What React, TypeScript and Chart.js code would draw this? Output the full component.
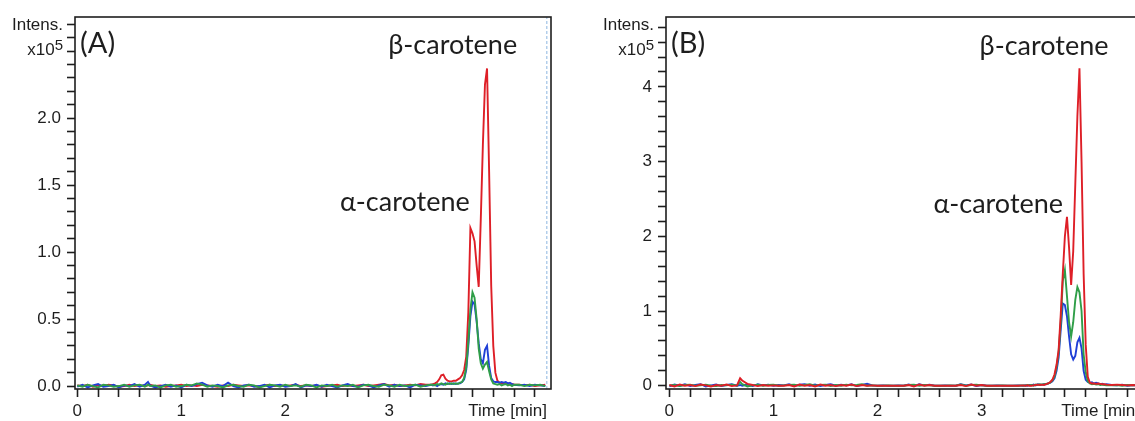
import React, { useEffect, useRef } from "react";
import { Chart, registerables } from "chart.js";

Chart.register(...registerables);

// Retention times (min), shared by both chromatograms
const times = [
  0.00, 0.05, 0.10, 0.15, 0.20, 0.25, 0.30, 0.35, 0.40, 0.45,
  0.50, 0.55, 0.60, 0.65, 0.68, 0.70, 0.75, 0.80, 0.85, 0.90,
  0.95, 1.00, 1.05, 1.10, 1.15, 1.20, 1.25, 1.30, 1.35, 1.40,
  1.45, 1.50, 1.55, 1.60, 1.65, 1.70, 1.75, 1.80, 1.85, 1.90,
  1.95, 2.00, 2.05, 2.10, 2.15, 2.20, 2.25, 2.30, 2.35, 2.40,
  2.45, 2.50, 2.55, 2.60, 2.65, 2.70, 2.75, 2.80, 2.85, 2.90,
  2.95, 3.00, 3.05, 3.10, 3.15, 3.20, 3.25, 3.30, 3.35, 3.40,
  3.42, 3.44, 3.46, 3.48, 3.50, 3.52, 3.54, 3.56, 3.58, 3.60,
  3.62, 3.64, 3.66, 3.68, 3.70, 3.72, 3.74, 3.76, 3.78, 3.80,
  3.82, 3.84, 3.86, 3.88, 3.90, 3.92, 3.94, 3.96, 3.98, 4.00,
  4.02, 4.04, 4.06, 4.08, 4.10, 4.12, 4.14, 4.16, 4.18, 4.20,
  4.25, 4.30, 4.35, 4.40, 4.45, 4.50,
];

// Panel (A) intensities, x10^5
const redA = [
  0.005, 0.0, 0.01, -0.005, 0.005, 0.0, 0.01, 0.005, -0.005, 0.0,
  0.01, 0.0, 0.005, 0.0, 0.005, 0.01, 0.0, 0.005, -0.005, 0.0,
  0.005, 0.01, 0.0, 0.005, 0.0, 0.01, 0.005, 0.0, -0.005, 0.005,
  0.0, 0.01, 0.005, 0.0, 0.005, 0.0, -0.005, 0.005, 0.01, 0.0,
  0.005, 0.0, 0.005, 0.01, 0.0, 0.005, 0.0, 0.005, -0.005, 0.0,
  0.005, 0.01, 0.0, 0.005, 0.0, 0.005, 0.01, 0.0, 0.005, 0.01,
  0.015, 0.005, 0.01, 0.0, 0.005, 0.01, 0.005, 0.015, 0.01, 0.01,
  0.015, 0.02, 0.03, 0.05, 0.08, 0.085, 0.055, 0.04, 0.035, 0.035,
  0.04, 0.04, 0.05, 0.06, 0.08, 0.12, 0.22, 0.55, 1.18, 1.14,
  1.08, 0.90, 0.74, 1.25, 1.80, 2.25, 2.37, 1.60, 0.75, 0.30,
  0.10, 0.04, 0.025, 0.02, 0.02, 0.015, 0.02, 0.01, 0.015, 0.01,
  0.01, 0.005, 0.01, 0.0, 0.005, 0.01,
];
const blueA = [
  -0.005, 0.01, -0.01, 0.005, 0.015, -0.005, 0.0, 0.01, -0.01, 0.005,
  0.0, 0.015, -0.005, 0.01, 0.03, 0.005, -0.01, 0.0, 0.01, -0.005,
  0.005, -0.01, 0.01, 0.0, 0.015, 0.025, 0.005, -0.005, 0.01, 0.0,
  0.025, 0.0, -0.01, 0.005, 0.01, -0.005, 0.0, 0.01, -0.01, 0.005,
  0.01, -0.005, 0.0, 0.015, -0.01, 0.005, 0.0, 0.01, -0.005, 0.01,
  0.0, -0.01, 0.005, 0.015, 0.0, -0.005, 0.01, 0.005, -0.01, 0.005,
  0.015, -0.005, 0.01, 0.0, 0.005, -0.01, 0.01, 0.005, 0.0, 0.01,
  0.005, 0.01, 0.0, 0.01, 0.015, 0.01, 0.02, 0.015, 0.02, 0.015,
  0.02, 0.015, 0.02, 0.02, 0.03, 0.05, 0.12, 0.30, 0.52, 0.63,
  0.61, 0.48, 0.32, 0.20, 0.17, 0.27, 0.30, 0.15, 0.06, 0.035,
  0.03, 0.03, 0.025, 0.03, 0.025, 0.03, 0.02, 0.025, 0.015, 0.01,
  0.005, 0.01, 0.0, 0.01, 0.005, 0.0,
];
const greenA = [
  0.005, -0.005, 0.01, 0.0, -0.01, 0.01, 0.005, -0.005, 0.0, 0.01,
  -0.005, 0.005, 0.01, -0.005, 0.01, 0.0, 0.005, -0.01, 0.005, 0.01,
  -0.005, 0.0, 0.01, 0.005, 0.02, 0.01, -0.005, 0.005, 0.0, -0.01,
  0.005, 0.01, 0.0, -0.005, 0.01, 0.005, -0.01, 0.0, 0.01, 0.005,
  -0.005, 0.01, 0.0, 0.005, -0.005, 0.01, 0.005, -0.01, 0.005, 0.0,
  0.01, -0.005, 0.005, 0.0, 0.01, -0.01, 0.005, 0.01, 0.0, -0.005,
  0.01, 0.005, -0.005, 0.01, 0.0, 0.005, 0.01, -0.005, 0.005, 0.01,
  0.01, 0.005, 0.015, 0.01, 0.02, 0.015, 0.01, 0.02, 0.015, 0.02,
  0.015, 0.02, 0.015, 0.025, 0.03, 0.06, 0.14, 0.33, 0.57, 0.70,
  0.66, 0.50, 0.28, 0.17, 0.13, 0.16, 0.18, 0.11, 0.05, 0.02,
  0.015, 0.01, 0.015, 0.005, 0.01, 0.015, 0.005, 0.01, 0.0, 0.01,
  0.01, 0.0, 0.01, 0.005, 0.01, 0.0,
];

// Panel (B) intensities, x10^5
const redB = [
  0.01, -0.01, 0.015, 0.0, 0.01, -0.005, 0.015, 0.005, -0.01, 0.01,
  0.0, 0.015, -0.005, 0.005, 0.10, 0.07, 0.025, 0.01, -0.005, 0.01,
  0.0, 0.005, 0.0, 0.0, 0.01, -0.01, 0.015, 0.0, 0.01, -0.01,
  0.015, 0.0, 0.01, -0.005, 0.01, 0.0, 0.015, -0.005, 0.01, 0.0,
  0.005, 0.0, 0.0, 0.0, 0.0, 0.0, 0.0, 0.01, -0.01, 0.015,
  0.0, 0.01, 0.0, 0.0, 0.0, 0.0, 0.0, 0.01, -0.005, 0.015,
  0.0, 0.01, 0.0, 0.0, 0.0, 0.0, 0.0, 0.0, 0.0, 0.005,
  0.0, 0.005, 0.0, 0.0, 0.005, 0.01, 0.015, 0.01, 0.015, 0.01,
  0.02, 0.03, 0.05, 0.08, 0.15, 0.28, 0.48, 0.95, 1.50, 2.00,
  2.26, 1.85, 1.35, 1.80, 2.70, 3.60, 4.25, 3.00, 1.50, 0.55,
  0.12, 0.04, 0.03, 0.03, 0.025, 0.03, 0.025, 0.02, 0.02, 0.015,
  0.01, 0.015, 0.01, 0.005, 0.01, 0.005,
];
const blueB = [
  -0.01, 0.015, 0.0, 0.02, -0.005, 0.01, 0.02, -0.01, 0.005, 0.015,
  -0.005, 0.01, 0.02, 0.0, 0.01, 0.0, 0.015, -0.005, 0.02, 0.005,
  0.015, 0.0, 0.01, 0.005, 0.02, -0.005, 0.015, 0.02, 0.0, 0.015,
  -0.005, 0.01, 0.02, 0.0, 0.015, 0.005, 0.02, -0.005, 0.01, 0.025,
  0.005, 0.0, 0.005, 0.0, 0.0, 0.005, 0.0, 0.015, -0.005, 0.02,
  0.005, 0.015, 0.0, 0.0, 0.005, 0.0, 0.0, 0.02, 0.005, 0.015,
  -0.005, 0.01, 0.0, 0.0, 0.005, 0.0, 0.0, 0.0, 0.005, 0.0,
  0.005, 0.0, 0.01, 0.005, 0.015, 0.005, 0.02, 0.01, 0.015, 0.02,
  0.02, 0.03, 0.04, 0.06, 0.10, 0.20, 0.38, 0.75, 1.10, 1.08,
  0.93, 0.66, 0.42, 0.35, 0.40, 0.58, 0.64, 0.50, 0.20, 0.08,
  0.05, 0.04, 0.045, 0.03, 0.04, 0.03, 0.02, 0.025, 0.015, 0.02,
  0.01, 0.005, 0.015, 0.0, 0.01, 0.005,
];
const greenB = [
  0.005, 0.01, -0.005, 0.01, 0.015, 0.0, 0.005, 0.015, 0.0, -0.005,
  0.01, 0.005, 0.015, 0.0, 0.05, 0.02, -0.01, 0.005, 0.015, 0.0,
  0.01, 0.015, 0.0, 0.005, 0.01, 0.015, 0.0, 0.01, 0.02, 0.0,
  0.01, 0.015, -0.005, 0.01, 0.0, 0.015, 0.005, 0.01, 0.02, 0.0,
  0.005, 0.0, 0.0, 0.005, 0.0, 0.0, 0.0, 0.01, 0.015, 0.0,
  0.01, 0.005, 0.0, 0.0, 0.0, 0.005, 0.0, 0.015, 0.0, 0.01,
  0.015, 0.005, 0.0, 0.0, 0.0, 0.005, 0.0, 0.0, 0.0, 0.005,
  0.0, 0.01, 0.005, 0.01, 0.0, 0.015, 0.01, 0.02, 0.015, 0.02,
  0.025, 0.03, 0.045, 0.07, 0.12, 0.25, 0.45, 0.85, 1.40, 1.55,
  1.20, 0.85, 0.66, 0.85, 1.15, 1.32, 1.25, 1.00, 0.42, 0.18,
  0.06, 0.03, 0.02, 0.025, 0.015, 0.02, 0.01, 0.015, 0.01, 0.005,
  0.005, 0.01, 0.0, 0.01, 0.005, 0.01,
];

// Axis ticks
const xTicks = [0, 0.2, 0.4, 0.6, 0.8, 1, 1.2, 1.4, 1.6, 1.8, 2, 2.2, 2.4, 2.6, 2.8, 3, 3.2, 3.4, 3.6, 3.8, 4, 4.2, 4.4];
const xLabelTicks = [0, 1, 2, 3];
const yTicksA = [0, 0.1, 0.2, 0.3, 0.4, 0.5, 0.6, 0.7, 0.8, 0.9, 1, 1.1, 1.2, 1.3, 1.4, 1.5, 1.6, 1.7, 1.8, 1.9, 2, 2.1, 2.2, 2.3, 2.4, 2.5, 2.6, 2.7];
const yLabelTicksA = [0, 0.5, 1, 1.5, 2];
const yTicksB = [0, 0.2, 0.4, 0.6, 0.8, 1, 1.2, 1.4, 1.6, 1.8, 2, 2.2, 2.4, 2.6, 2.8, 3, 3.2, 3.4, 3.6, 3.8, 4, 4.2, 4.4, 4.6, 4.8];
const yLabelTicksB = [0, 1, 2, 3, 4];

const RED = "#de1f27";
const BLUE = "#1f3fd6";
const GREEN = "#2f9e48";
const AXIS = "#1e1e1e";
const TICK_FONT = '"Liberation Sans", Arial, sans-serif';
const ANNOT_FONT = 'Lato, "Noto Sans", sans-serif';

type Series = { name: string; values: number[]; color: string; order: number };
type PanelCfg = {
  letter: string;
  left: number;
  width: number;
  yAxisWidth: number;
  rightPad: number;
  xMin: number;
  xMax: number;
  yMin: number;
  yMax: number;
  yTicks: number[];
  yLabelTicks: number[];
  yDecimals: number;
  series: Series[];
  marker: number | null;
  alpha: { x: number; y: number };
  beta: { x: number; y: number };
};

const panels: PanelCfg[] = [
  {
    letter: "(A)",
    left: 0,
    width: 560,
    yAxisWidth: 75,
    rightPad: 9,
    xMin: -0.022,
    xMax: 4.555,
    yMin: -0.022,
    yMax: 2.754,
    yTicks: yTicksA,
    yLabelTicks: yLabelTicksA,
    yDecimals: 1,
    series: [
      { name: "red", values: redA, color: RED, order: 3 },
      { name: "blue", values: blueA, color: BLUE, order: 2 },
      { name: "green", values: greenA, color: GREEN, order: 1 },
    ],
    marker: 4.515,
    alpha: { x: 3.15, y: 1.31 },
    beta: { x: 3.61, y: 2.48 },
  },
  {
    letter: "(B)",
    left: 570,
    width: 580,
    yAxisWidth: 96,
    rightPad: 6,
    xMin: -0.032,
    xMax: 4.56,
    yMin: -0.044,
    yMax: 4.936,
    yTicks: yTicksB,
    yLabelTicks: yLabelTicksB,
    yDecimals: 0,
    series: [
      { name: "blue", values: blueB, color: BLUE, order: 3 },
      { name: "green", values: greenB, color: GREEN, order: 2 },
      { name: "red", values: redB, color: RED, order: 1 },
    ],
    marker: null,
    alpha: { x: 3.16, y: 2.31 },
    beta: { x: 3.6, y: 4.43 },
  },
];

function Panel({ cfg }: { cfg: PanelCfg }) {
  const ref = useRef<HTMLCanvasElement>(null);
  useEffect(() => {
    if (!ref.current) return;
    const datasets: any[] = cfg.series.map((s) => ({
      label: s.name,
      data: s.values.map((v, i) => ({ x: times[i], y: v })),
      borderColor: s.color,
      backgroundColor: s.color,
      borderWidth: 1.9,
      pointRadius: 0,
      tension: 0,
      order: s.order,
    }));
    if (cfg.marker !== null) {
      datasets.push({
        label: "end",
        data: [
          { x: cfg.marker, y: cfg.yMin },
          { x: cfg.marker, y: cfg.yMax },
        ],
        borderColor: "#8db6e2",
        borderDash: [3, 2],
        borderWidth: 1,
        pointRadius: 0,
        order: 10,
      });
    }

    const labelPlugin = {
      id: "chromLabels",
      afterDraw(chart: any) {
        const { ctx, chartArea: ca, scales } = chart;
        const xs = scales.x;
        const ys = scales.y;
        ctx.save();
        ctx.strokeStyle = AXIS;
        ctx.lineWidth = 1.6;
        ctx.strokeRect(ca.left, ca.top, ca.right - ca.left, ca.bottom - ca.top);

        ctx.fillStyle = AXIS;
        ctx.font = `17px ${TICK_FONT}`;
        ctx.textAlign = "right";
        ctx.textBaseline = "middle";
        ctx.fillText("Intens.", ca.left - 12, ca.top + 8);
        ctx.fillText("Time [min]", ca.right - 4, ca.bottom + 22);

        ctx.textBaseline = "alphabetic";
        ctx.font = `15px ${TICK_FONT}`;
        const w5 = ctx.measureText("5").width;
        ctx.fillText("5", ca.left - 12, ca.top + 33);
        ctx.font = `17px ${TICK_FONT}`;
        ctx.fillText("x10", ca.left - 12 - w5, ca.top + 38);

        ctx.textAlign = "left";
        ctx.font = `29px ${ANNOT_FONT}`;
        ctx.fillText(cfg.letter, ca.left + 5, ca.top + 36);

        ctx.textAlign = "center";
        ctx.font = `27px ${ANNOT_FONT}`;
        ctx.fillText("β-carotene", xs.getPixelForValue(cfg.beta.x), ys.getPixelForValue(cfg.beta.y));
        ctx.fillText("α-carotene", xs.getPixelForValue(cfg.alpha.x), ys.getPixelForValue(cfg.alpha.y));
        ctx.restore();
      },
    };

    const chart = new Chart(ref.current, {
      type: "line",
      data: { datasets },
      options: {
        animation: false,
        responsive: false,
        devicePixelRatio: 1,
        layout: { padding: { left: 0, top: 17, right: cfg.rightPad, bottom: 0 } },
        plugins: { legend: { display: false }, tooltip: { enabled: false } },
        scales: {
          x: {
            type: "linear",
            min: cfg.xMin,
            max: cfg.xMax,
            afterBuildTicks: (s: any) => {
              s.ticks = xTicks.map((v) => ({ value: v }));
            },
            afterFit: (s: any) => {
              s.height = 32;
            },
            ticks: {
              autoSkip: false,
              maxRotation: 0,
              padding: 4,
              color: AXIS,
              font: { family: TICK_FONT, size: 17 },
              callback: (v: any) => (xLabelTicks.includes(Number(v)) ? String(v) : ""),
            },
            grid: {
              display: true,
              drawOnChartArea: false,
              drawTicks: true,
              tickLength: 8,
              tickColor: AXIS,
              tickWidth: 1.6,
            },
            border: { display: false },
          },
          y: {
            type: "linear",
            min: cfg.yMin,
            max: cfg.yMax,
            afterBuildTicks: (s: any) => {
              s.ticks = cfg.yTicks.map((v) => ({ value: v }));
            },
            afterFit: (s: any) => {
              s.width = cfg.yAxisWidth;
            },
            ticks: {
              autoSkip: false,
              padding: 6,
              color: AXIS,
              font: { family: TICK_FONT, size: 17 },
              callback: (v: any) =>
                cfg.yLabelTicks.includes(Number(v)) ? Number(v).toFixed(cfg.yDecimals) : "",
            },
            grid: {
              display: true,
              drawOnChartArea: false,
              drawTicks: true,
              tickLength: 8,
              tickColor: AXIS,
              tickWidth: 1.6,
            },
            border: { display: false },
          },
        },
      } as any,
      plugins: [labelPlugin],
    });
    return () => chart.destroy();
  }, [cfg]);

  return (
    <canvas
      ref={ref}
      width={cfg.width}
      height={421}
      style={{ position: "absolute", left: cfg.left, top: 0, width: cfg.width, height: 421 }}
    />
  );
}

export default function App() {
  return (
    <div
      style={{
        position: "fixed",
        left: 0,
        top: 0,
        width: 1135,
        height: 421,
        overflow: "hidden",
        background: "#ffffff",
      }}
    >
      {panels.map((p) => (
        <Panel key={p.letter} cfg={p} />
      ))}
    </div>
  );
}
